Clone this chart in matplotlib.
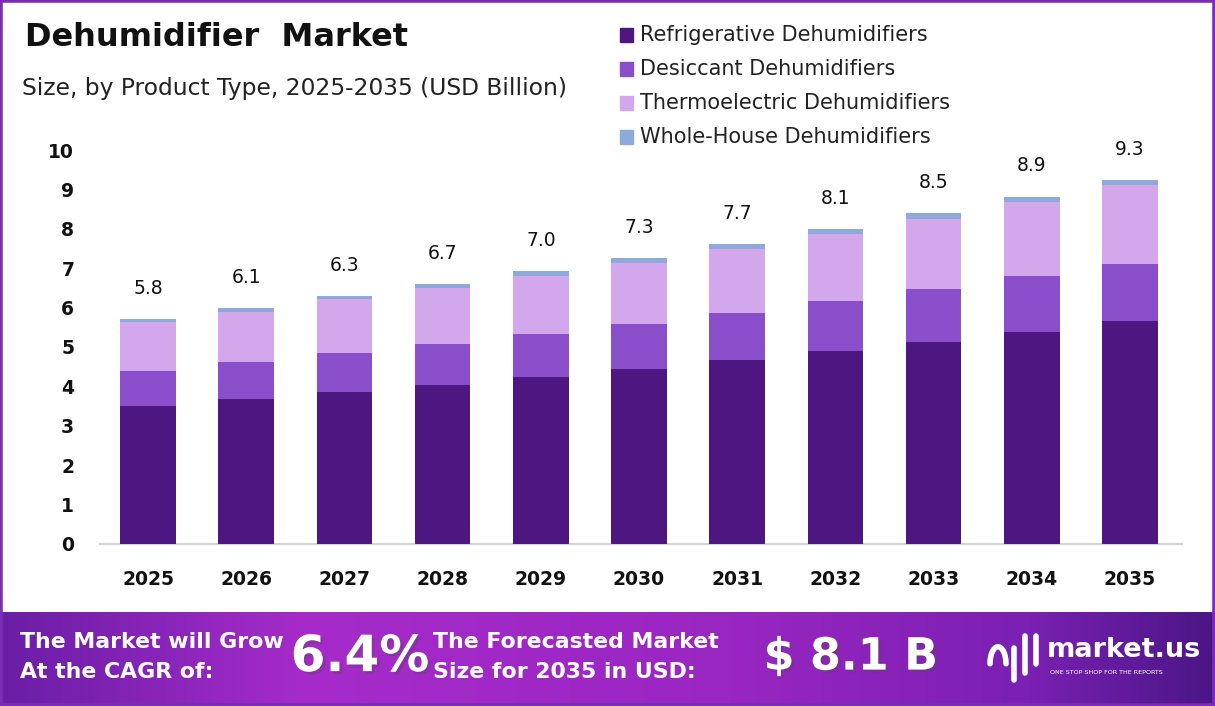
import numpy as np
import matplotlib
matplotlib.use('Agg')
import matplotlib.pyplot as plt
from matplotlib.patches import Rectangle
from matplotlib.colors import LinearSegmentedColormap
import matplotlib.patheffects as pe

plt.rcParams['font.family'] = ['DejaVu Sans']

years = ['2025', '2026', '2027', '2028', '2029', '2030', '2031', '2032', '2033', '2034', '2035']
refrigerative = [3.50, 3.69, 3.87, 4.04, 4.25, 4.44, 4.67, 4.90, 5.13, 5.39, 5.66]
desiccant = [0.90, 0.94, 0.99, 1.04, 1.07, 1.14, 1.19, 1.27, 1.35, 1.40, 1.45]
thermoelectric = [1.23, 1.26, 1.35, 1.43, 1.48, 1.56, 1.62, 1.70, 1.78, 1.88, 1.99]
whole_house = [0.08, 0.10, 0.09, 0.10, 0.12, 0.12, 0.13, 0.13, 0.13, 0.15, 0.15]
totals = ['5.8', '6.1', '6.3', '6.7', '7.0', '7.3', '7.7', '8.1', '8.5', '8.9', '9.3']

series = ['Refrigerative Dehumidifiers', 'Desiccant Dehumidifiers',
          'Thermoelectric Dehumidifiers', 'Whole-House Dehumidifiers']
colors = ['#4e1681', '#8a4ecb', '#d2a7eb', '#8eaadb']

fig = plt.figure(figsize=(12.15, 7.06), dpi=100)
fig.patch.set_facecolor('white')

ax = fig.add_axes([0.0823, 0.2295, 0.8905, 0.6138])
x = np.arange(len(years))
bottom = np.zeros(len(years))
for name, vals, c in zip(series, [refrigerative, desiccant, thermoelectric, whole_house], colors):
    ax.bar(x, vals, 0.566, bottom=bottom, color=c, label=name, zorder=3)
    bottom += np.array(vals)

for xi, top, lab in zip(x, bottom, totals):
    ax.annotate(lab, (xi, top), xytext=(0, 22), textcoords='offset points',
                ha='center', va='center', fontsize=13.5, color='#111111')

ax.set_xlim(-0.49, 10.53)
ax.set_ylim(0, 11)
ax.set_yticks(range(0, 11))
ax.set_xticks(x)
ax.set_xticklabels(years)
for s in ['top', 'right', 'left']:
    ax.spines[s].set_visible(False)
ax.spines['bottom'].set_color('#d4d4d4')
ax.spines['bottom'].set_linewidth(1.6)
ax.tick_params(axis='both', length=0, labelsize=13.5)
ax.tick_params(axis='y', pad=18.5)
ax.tick_params(axis='x', pad=19)
for t in ax.get_yticklabels() + ax.get_xticklabels():
    t.set_fontweight('bold')
    t.set_color('#111111')

# titles
fig.text(25 / 1215, 1 - 37 / 706, 'Dehumidifier  Market', fontsize=23, fontweight='bold',
         color='#111111', va='center', ha='left')
fig.text(22 / 1215, 1 - 88 / 706, 'Size, by Product Type, 2025-2035 (USD Billion)', fontsize=16.8,
         color='#222222', va='center', ha='left')

# legend
for i, (name, c) in enumerate(zip(series, colors)):
    yc = 1 - (35 + 34 * i) / 706
    fig.patches.append(Rectangle((620 / 1215, yc - 7 / 706), 13 / 1215, 14 / 706,
                                 transform=fig.transFigure, color=c))
    fig.text(640 / 1215, yc, name, fontsize=15, color='#222222', va='center', ha='left')

# bottom banner
bax = fig.add_axes([0, 0, 1, 94 / 706])
cmap = LinearSegmentedColormap.from_list('band', [(0, '#6a1ea6'), (0.25, '#a62bca'),
                                                  (0.6, '#9a26c2'), (0.85, '#7a20b2'), (1, '#4a1686')])
grad = np.linspace(0, 1, 512)[None, :]
bax.imshow(grad, aspect='auto', cmap=cmap, extent=[0, 1, 0, 1])
bax.set_xlim(0, 1)
bax.set_ylim(0, 1)
bax.axis('off')

shadow = [pe.withSimplePatchShadow(offset=(2, -2), alpha=0.35)]
bax.text(20 / 1215, 0.68, 'The Market will Grow', fontsize=15.8, fontweight='bold', color='white', va='center')
bax.text(20 / 1215, 0.36, 'At the CAGR of:', fontsize=15.8, fontweight='bold', color='white', va='center')
bax.text(360 / 1215, 0.52, '6.4%', fontsize=36, fontweight='bold', color='white', va='center', ha='center',
         path_effects=shadow)
bax.text(433 / 1215, 0.68, 'The Forecasted Market', fontsize=15.8, fontweight='bold', color='white', va='center')
bax.text(433 / 1215, 0.36, 'Size for 2035 in USD:', fontsize=15.8, fontweight='bold', color='white', va='center')
bax.text(851 / 1215, 0.52, '$ 8.1 B', fontsize=32, fontweight='bold', color='white', va='center', ha='center',
         path_effects=shadow)
bax.text(1047 / 1215, 0.60, 'market.us', fontsize=19.5, fontweight='bold', color='white', va='center')
bax.text(1050 / 1215, 0.36, 'ONE STOP SHOP FOR THE REPORTS', fontsize=4.6, color='white', va='center')
# simple logo mark
lx = np.linspace(0, np.pi, 30)
bax.plot(990 / 1215 + 8 / 1215 * (1 - np.cos(lx)), 0.45 + 0.18 * np.sin(lx), color='white', lw=4,
         solid_capstyle='round')
bax.plot([1014 / 1215, 1014 / 1215], [0.28, 0.62], color='white', lw=4, solid_capstyle='round')
bax.plot([1025 / 1215, 1025 / 1215], [0.35, 0.75], color='white', lw=4, solid_capstyle='round')
bax.plot([1036 / 1215, 1036 / 1215], [0.45, 0.75], color='white', lw=4, solid_capstyle='round')

# frame
fig.patches.append(Rectangle((0, 0), 1, 1, transform=fig.transFigure, fill=False,
                             edgecolor='#7b2cb5', linewidth=4, zorder=10))

fig.savefig('out.png', dpi=100)
